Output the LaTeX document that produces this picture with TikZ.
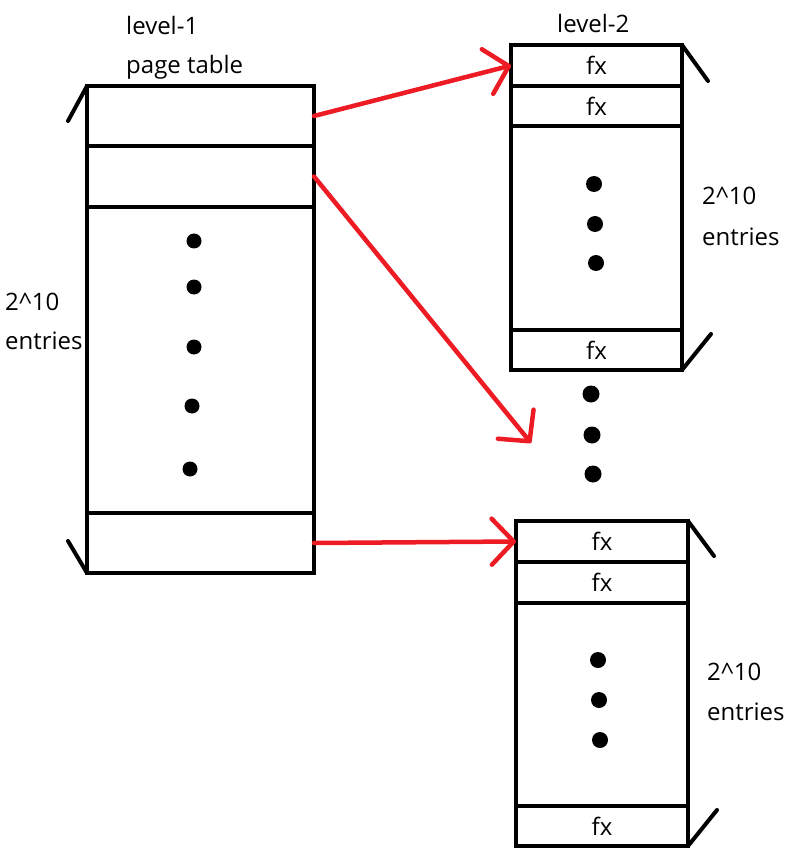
\documentclass[tikz,border=0pt]{standalone}
\usepackage{fontspec}
\setmainfont{Open Sans}
\usetikzlibrary{positioning, arrows.meta}
\definecolor{paintred}{RGB}{237,28,36}

\begin{document}
\begin{tikzpicture}[x=1pt, y=-1pt,
					every node/.style={font=\fontsize{24}{28}\selectfont},
					bigcell/.style={draw, rectangle, line width=4.5pt, minimum width=227pt, inner sep=0pt, outer sep=0pt},
					cell/.style={draw, rectangle, line width=3.3pt, minimum width=171pt, inner sep=0pt, outer sep=0pt},
					dot/.style={circle, fill, inner sep=0pt, minimum size=15pt},
					slash/.style={line width=4pt, line cap=round},
					pointer/.style={paintred, line width=4.5pt, line cap=round,
						-{Straight Barb[length=22pt, width=46pt, round]}},
					txt/.style={anchor=west, inner sep=0pt}]
				\useasboundingbox (0,0) rectangle (804,858);

				% level-1 table
				\node[bigcell, minimum height=60pt]                    (a1)   at (200.5,116) {};
				\node[bigcell, minimum height=61pt, below=0pt of a1]   (a2)   {};
				\node[bigcell, minimum height=306pt, below=0pt of a2]  (amid) {};
				\node[bigcell, minimum height=60pt, below=0pt of amid] (an)   {};

				% level-2 tables
				\node[cell, minimum height=41pt]                    (b1)   at (596.5,65.5) {fx};
				\node[cell, minimum height=40pt, below=0pt of b1]   (b2)   {fx};
				\node[cell, minimum height=204pt, below=0pt of b2]  (bmid) {};
				\node[cell, minimum height=40pt, below=0pt of bmid] (bn)   {fx};

				\node[cell, minimum width=172pt, minimum height=41pt]                    (c1)   at (602,541.5) {fx};
				\node[cell, minimum width=172pt, minimum height=41pt, below=0pt of c1]   (c2)   {fx};
				\node[cell, minimum width=172pt, minimum height=203pt, below=0pt of c2]  (cmid) {};
				\node[cell, minimum width=172pt, minimum height=40pt, below=0pt of cmid] (cn)   {fx};

				\foreach \x/\y [count=\i] in {194/241, 194/287, 194/347, 192/406, 190/469}
					\node[dot] (ad\i) at (\x,\y) {};
				\foreach \x/\y [count=\i] in {594/184, 595/224, 596/263}
					\node[dot, minimum size=16pt] (bd\i) at (\x,\y) {};
				\foreach \x/\y [count=\i] in {591/394, 592/435, 593/474}
					\node[dot, minimum size=17pt] (md\i) at (\x,\y) {};
				\foreach \x/\y [count=\i] in {598/660, 599/700, 600/740}
					\node[dot, minimum size=16pt] (cd\i) at (\x,\y) {};

				\node[txt] (lvl1)  at (126,26)  {level-1};
				\node[txt] (pgtbl) at (126,67)  {page table};
				\node[txt] (cnt1)  at (5,302)   {2\textasciicircum10};
				\node[txt] (ent1)  at (5,341)   {entries};
				\node[txt] (lvl2)  at (557,24)  {level-2};
				\node[txt] (cnt2)  at (702,196) {2\textasciicircum10};
				\node[txt] (ent2)  at (702,237) {entries};
				\node[txt] (cnt3)  at (707,672) {2\textasciicircum10};
				\node[txt] (ent3)  at (707,712) {entries};

				\draw[slash] (a1.north west) -- ++(-19,35);
				\draw[slash] (an.south west) -- ++(-19,-32);
				\draw[slash] (b1.north east) -- ++(26,36);
				\draw[slash] (bn.south east) -- ++(29,-36);
				\draw[slash] (c1.north east) -- ++(26,35);
				\draw[slash] (cn.south east) -- ++(29,-36);

				\coordinate (gap) at (531,443);
				\draw[pointer] (a1.east) -- (b1.west);
				\draw[pointer] (a2.east) -- (gap);
				\draw[pointer] (an.east) -- (c1.west);
			\end{tikzpicture}
\end{document}
